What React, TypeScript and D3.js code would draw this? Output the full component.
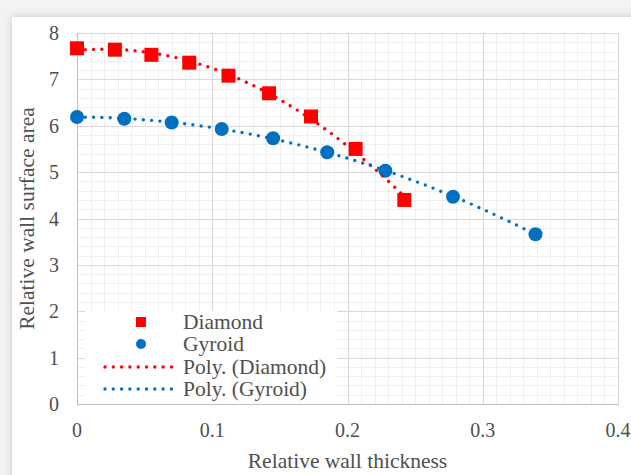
import React from 'react';
import * as d3 from 'd3';

// Measured series
const diamondX = [0, 0.028, 0.055, 0.083, 0.112, 0.142, 0.173, 0.206, 0.242];
const diamondY = [7.67, 7.64, 7.53, 7.36, 7.08, 6.7, 6.2, 5.5, 4.4];
const gyroidX = [0, 0.035, 0.07, 0.107, 0.145, 0.185, 0.228, 0.278, 0.339];
const gyroidY = [6.19, 6.15, 6.07, 5.93, 5.73, 5.43, 5.03, 4.47, 3.66];

const xTicks = [0, 0.1, 0.2, 0.3, 0.4];
const yTicks = [0, 1, 2, 3, 4, 5, 6, 7, 8];
const legendLabels = ['Diamond', 'Gyroid', 'Poly. (Diamond)', 'Poly. (Gyroid)'];

const RED = '#FF0000';
const BLUE = '#0070C0';
const TEXT = '#4f4f4f';
const FONT = '"Liberation Serif", "Times New Roman", serif';

// Least-squares polynomial fit (normal equations + Gaussian elimination)
function polyFit(xs: number[], ys: number[], order: number): number[] {
  const n = order + 1;
  const A: number[][] = Array.from({ length: n }, () => new Array(n + 1).fill(0));
  for (let r = 0; r < n; r++) {
    for (let c = 0; c < n; c++) {
      A[r][c] = d3.sum(xs, (x) => Math.pow(x, r + c));
    }
    A[r][n] = d3.sum(xs, (x, i) => ys[i] * Math.pow(x, r));
  }
  for (let i = 0; i < n; i++) {
    let p = i;
    for (let k = i + 1; k < n; k++) if (Math.abs(A[k][i]) > Math.abs(A[p][i])) p = k;
    [A[i], A[p]] = [A[p], A[i]];
    for (let k = i + 1; k < n; k++) {
      const f = A[k][i] / A[i][i];
      for (let c = i; c <= n; c++) A[k][c] -= f * A[i][c];
    }
  }
  const coef = new Array(n).fill(0);
  for (let i = n - 1; i >= 0; i--) {
    let s = A[i][n];
    for (let c = i + 1; c < n; c++) s -= A[i][c] * coef[c];
    coef[i] = s / A[i][i];
  }
  return coef;
}

function trendPoints(xs: number[], ys: number[]): [number, number][] {
  const coef = polyFit(xs, ys, 2);
  const lo = d3.min(xs)!;
  const hi = d3.max(xs)!;
  return d3.range(0, 101).map((i) => {
    const x = lo + ((hi - lo) * i) / 100;
    const y = coef.reduce((acc, c, k) => acc + c * Math.pow(x, k), 0);
    return [x, y];
  });
}

export default function App() {
  const W = 631;
  const H = 475;
  const left = 77;
  const right = 618;
  const top = 33;
  const bottom = 404;

  const x = d3.scaleLinear().domain([0, 0.4]).range([left, right]);
  const y = d3.scaleLinear().domain([0, 8]).range([bottom, top]);
  const px = (v: number) => Math.round(v) + 0.5;

  const minorX = d3.range(0, 40.5, 1).map((i) => i / 100);
  const minorY = d3.range(0, 40.5, 1).map((i) => i / 5);

  const line = d3
    .line<[number, number]>()
    .x((d) => x(d[0]))
    .y((d) => y(d[1]))
    .curve(d3.curveLinear);

  const diamondTrend = trendPoints(diamondX, diamondY);
  const gyroidTrend = trendPoints(gyroidX, gyroidY);

  const dotStyle = {
    fill: 'none',
    strokeWidth: 3.4,
    strokeDasharray: '0 8.3',
    strokeLinecap: 'round' as const,
  };

  // Legend layout
  const lgX0 = 85;
  const lgY0 = 311;
  const lgX1 = 337;
  const rowY = [322, 344, 367, 389];
  const symX = 141;
  const textX = 183;

  return (
    <svg
      width={W}
      height={H}
      style={{ position: 'absolute', left: 0, top: 0, display: 'block' }}
    >
      <defs>
        <filter id="cardShadow" x="-5%" y="-5%" width="110%" height="110%">
          <feDropShadow dx="0" dy="0" stdDeviation="4" floodColor="#000" floodOpacity="0.18" />
        </filter>
      </defs>
      <rect x={0} y={0} width={W} height={H} fill="#f3f3f3" />
      <rect x={12} y={17} width={W + 20} height={H + 20} fill="#ffffff" filter="url(#cardShadow)" />

      {/* minor grid */}
      <g stroke="#efefef" strokeWidth={1} shapeRendering="crispEdges">
        {minorX.map((v) => (
          <line key={'mx' + v} x1={px(x(v))} x2={px(x(v))} y1={top} y2={bottom} />
        ))}
        {minorY.map((v) => (
          <line key={'my' + v} x1={left} x2={right} y1={px(y(v))} y2={px(y(v))} />
        ))}
      </g>
      {/* major grid */}
      <g stroke="#d9d9d9" strokeWidth={1} shapeRendering="crispEdges">
        {xTicks.map((v) => (
          <line key={'gx' + v} x1={px(x(v))} x2={px(x(v))} y1={top} y2={bottom} />
        ))}
        {yTicks.map((v) => (
          <line key={'gy' + v} x1={left} x2={right} y1={px(y(v))} y2={px(y(v))} />
        ))}
      </g>
      <line x1={px(left)} x2={px(left)} y1={top} y2={bottom} stroke="#bfbfbf" shapeRendering="crispEdges" />
      <line x1={left} x2={right + 1} y1={px(bottom)} y2={px(bottom)} stroke="#bfbfbf" shapeRendering="crispEdges" />

      {/* markers */}
      <g fill={RED}>
        {diamondX.map((v, i) => (
          <rect key={'d' + i} x={x(v) - 7} y={y(diamondY[i]) - 7} width={14} height={14} />
        ))}
      </g>
      <g fill={BLUE}>
        {gyroidX.map((v, i) => (
          <circle key={'g' + i} cx={x(v)} cy={y(gyroidY[i])} r={7} />
        ))}
      </g>

      {/* polynomial trendlines */}
      <path d={line(diamondTrend) || ''} stroke={RED} {...dotStyle} />
      <path d={line(gyroidTrend) || ''} stroke={BLUE} {...dotStyle} />

      {/* tick labels */}
      <g fontFamily={FONT} fontSize={20} fill={TEXT}>
        {yTicks.map((v) => (
          <text key={'yl' + v} x={59} y={y(v)} dy="0.35em" textAnchor="end">
            {v}
          </text>
        ))}
        {xTicks.map((v) => (
          <text key={'xl' + v} x={x(v)} y={437} textAnchor="middle">
            {v}
          </text>
        ))}
      </g>

      {/* axis titles */}
      <text
        x={(left + right) / 2}
        y={468}
        textAnchor="middle"
        fontFamily={FONT}
        fontSize={21.5}
        fill={TEXT}
      >
        Relative wall thickness
      </text>
      <text
        transform={`translate(34, ${(top + bottom) / 2}) rotate(-90)`}
        textAnchor="middle"
        fontFamily={FONT}
        fontSize={21.5}
        fill={TEXT}
      >
        Relative wall surface area
      </text>

      {/* legend */}
      <rect x={lgX0} y={lgY0} width={lgX1 - lgX0} height={bottom - lgY0} fill="#ffffff" />
      <rect x={symX - 5} y={rowY[0] - 5} width={10} height={10} fill={RED} />
      <circle cx={symX} cy={rowY[1]} r={5} fill={BLUE} />
      <line x1={105} x2={175} y1={rowY[2]} y2={rowY[2]} stroke={RED} {...dotStyle} />
      <line x1={105} x2={175} y1={rowY[3]} y2={rowY[3]} stroke={BLUE} {...dotStyle} />
      <g fontFamily={FONT} fontSize={21.5} fill={TEXT}>
        {legendLabels.map((t, i) => (
          <text key={t} x={textX} y={rowY[i]} dy="0.33em">
            {t}
          </text>
        ))}
      </g>
    </svg>
  );
}
